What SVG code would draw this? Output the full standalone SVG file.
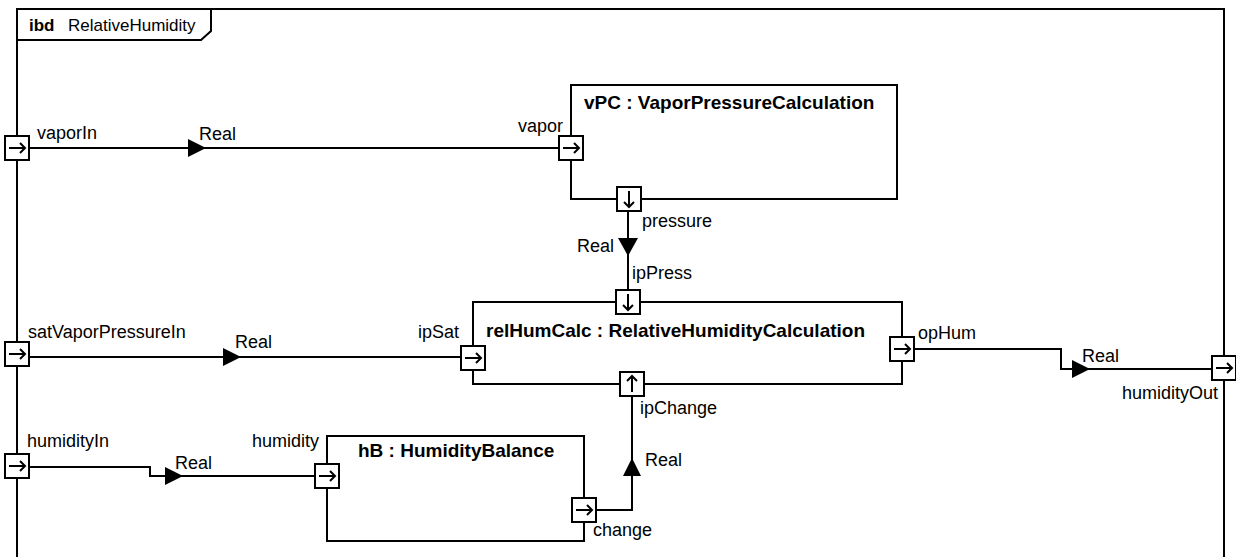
<svg xmlns="http://www.w3.org/2000/svg" xmlns:xlink="http://www.w3.org/1999/xlink" width="1236" height="557" viewBox="0 0 1236 557">
<style>
.ln{fill:none;stroke:#000;stroke-width:2}
.blk{fill:#fff;stroke:#000;stroke-width:2}
.t{font-family:"Liberation Sans",Arial,sans-serif;font-size:18px;fill:#000}
.tb{font-family:"Liberation Sans",Arial,sans-serif;font-size:19px;font-weight:bold;fill:#000}
.ah{fill:#000;stroke:none}
</style>
<defs>
<g id="pR"><rect x="-12" y="-12" width="24" height="24" fill="#fff" stroke="#000" stroke-width="2"/><path d="M-8,0H8M3,-5L8,0L3,5" fill="none" stroke="#000" stroke-width="2"/></g>
<g id="pD"><rect x="-12" y="-12" width="24" height="24" fill="#fff" stroke="#000" stroke-width="2"/><path d="M0,-8V8M-5,3L0,8L5,3" fill="none" stroke="#000" stroke-width="2"/></g>
<g id="pU"><rect x="-12" y="-12" width="24" height="24" fill="#fff" stroke="#000" stroke-width="2"/><path d="M0,8V-8M-5,-3L0,-8L5,-3" fill="none" stroke="#000" stroke-width="2"/></g>
</defs>
<rect width="1236" height="557" fill="#fff"/>
<g id="frame">
<rect x="17" y="9" width="1207" height="600" class="ln"/>
<path d="M17,40H201L211,31V9" class="ln"/>
<text x="29" y="31" class="t" style="font-weight:bold;font-size:17px">ibd</text>
<text x="68" y="31" class="t" style="font-size:17px">RelativeHumidity</text>
</g>
<g id="connectors">
<path d="M29,148H559" class="ln"/>
<path d="M188,139L206,148L188,157Z" class="ah"/>
<text x="199" y="140" class="t">Real</text>
<path d="M628,211V290" class="ln"/>
<path d="M618,238L638,238L628,256Z" class="ah"/>
<text x="577" y="252" class="t">Real</text>
<path d="M29,357H461" class="ln"/>
<path d="M223,348L241,357L223,366Z" class="ah"/>
<text x="235" y="348" class="t">Real</text>
<path d="M914,349H1061V369H1212" class="ln"/>
<path d="M1072,360L1090,369L1072,378Z" class="ah"/>
<text x="1082" y="362" class="t">Real</text>
<path d="M29,467H150V476H315" class="ln"/>
<path d="M165,467L183,476L165,485Z" class="ah"/>
<text x="175" y="469" class="t">Real</text>
<path d="M596,510H632V396" class="ln"/>
<path d="M632,458L641,476L623,476Z" class="ah"/>
<text x="645" y="466" class="t">Real</text>
</g>
<g id="vaporIn"><use xlink:href="#pR" x="17" y="148"/><text x="37" y="139" class="t">vaporIn</text></g>
<g id="satVaporPressureIn"><use xlink:href="#pR" x="17" y="354"/><text x="28" y="338" class="t">satVaporPressureIn</text></g>
<g id="humidityIn"><use xlink:href="#pR" x="17" y="466"/><text x="27" y="447" class="t">humidityIn</text></g>
<g id="humidityOut"><use xlink:href="#pR" x="1224" y="368"/><text x="1218" y="399" class="t" text-anchor="end">humidityOut</text></g>
<g id="vPC">
<rect x="571" y="85" width="326" height="114" class="blk"/>
<text x="584" y="109" class="tb">vPC : VaporPressureCalculation</text>
<use xlink:href="#pR" x="571" y="148"/>
<text x="518" y="132" class="t">vapor</text>
<use xlink:href="#pD" x="629" y="199"/>
<text x="642" y="227" class="t">pressure</text>
</g>
<g id="relHumCalc">
<rect x="473" y="302" width="429" height="82" class="blk"/>
<text x="486" y="337" class="tb">relHumCalc : RelativeHumidityCalculation</text>
<use xlink:href="#pD" x="628" y="302"/>
<text x="632" y="279" class="t">ipPress</text>
<use xlink:href="#pR" x="473" y="358"/>
<text x="418" y="338" class="t">ipSat</text>
<use xlink:href="#pR" x="902" y="349"/>
<text x="918" y="339" class="t">opHum</text>
<use xlink:href="#pU" x="632" y="384"/>
<text x="640" y="414" class="t">ipChange</text>
</g>
<g id="hB">
<rect x="327" y="436" width="257" height="105" class="blk"/>
<text x="358" y="457" class="tb">hB : HumidityBalance</text>
<use xlink:href="#pR" x="327" y="476"/>
<text x="252" y="447" class="t">humidity</text>
<use xlink:href="#pR" x="584" y="510"/>
<text x="593" y="536" class="t">change</text>
</g>
</svg>
